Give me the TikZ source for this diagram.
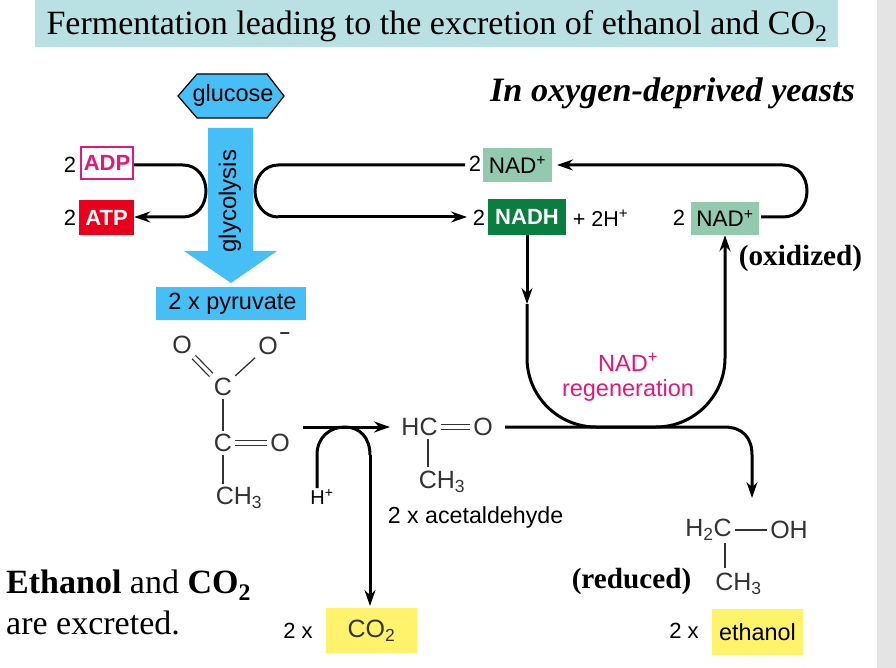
\documentclass[tikz,border=0pt]{standalone}
\usepackage{fontspec}
\setmainfont{Liberation Serif}
\newfontfamily\fsans{Liberation Sans}
\usetikzlibrary{arrows.meta}
\definecolor{titlebg}{HTML}{B9E0E3}
\definecolor{gblue}{HTML}{45BFF5}
\definecolor{pinkc}{HTML}{E6177A}
\definecolor{redc}{HTML}{E8001C}
\definecolor{nadc}{HTML}{93C9AE}
\definecolor{nadhc}{HTML}{0A7D40}
\definecolor{yel}{HTML}{FFF36B}
\definecolor{molc}{HTML}{333333}
\definecolor{strip}{HTML}{E4E4E4}
\newcommand{\fs}[1]{\fontsize{#1}{#1}\selectfont}
\tikzset{
  flow/.style={line width=3pt,black},
  tip/.style={-{Stealth[length=16pt,width=11pt]}},
  bond/.style={line width=1.3pt,molc},
  dbond/.style={line width=1.3pt,molc,double,double distance=3.4pt},
  lab/.style={inner sep=3pt,font=\fsans\fs{22}},
  atom/.style={inner sep=3pt,text=molc,font=\fsans\fs{25}},
  box/.style={inner sep=0pt,font=\fsans\fs{23.5}},
  serifb/.style={inner sep=0pt,font=\bfseries\fs{29.2}},
}
\begin{document}
\begin{tikzpicture}[x=1pt,y=-1pt]
\useasboundingbox (0,0) rectangle (896,668);
\fill[strip] (877,0) rectangle (896,668);
% title
\node[fill=titlebg,minimum width=803pt,minimum height=47pt,inner sep=0pt] (titlebox) at (436.5,23.5) {};
\node[inner sep=0pt,font=\fs{34}] (title) at (437,26) {Fermentation leading to the excretion of ethanol and CO\textsubscript{2}};
\node[inner sep=0pt,font=\bfseries\itshape\fs{34.2}] (subtitle) at (672.5,93) {In oxygen-deprived yeasts};
% glucose and glycolysis arrow
\fill[gblue,draw=black,line width=1.2pt] (178,96) -- (197,74) -- (267,74) -- (284,96) -- (267,118) -- (197,118) -- cycle;
\node[box] (glucose) at (233,95) {glucose};
\fill[gblue] (208,128) -- (253,128) -- (253,251) -- (277,251) -- (231,283) -- (184,251) -- (208,251) -- cycle;
\node[box,rotate=90,font=\fsans\fs{24}] (glyc) at (230,201) {glycolysis};
\node[box,fill=gblue,minimum width=150pt,minimum height=33pt,font=\fsans\fs{23.5}] (pyr) at (231,303.5) {\hspace{3pt}2 x pyruvate};
% ADP ATP
\node[box,draw=pinkc,line width=2pt,fill=white,text=pinkc,minimum width=52pt,minimum height=32pt,font=\fsans\bfseries\fs{22}] (adp) at (107,163) {ADP};
\node[box,fill=redc,text=white,minimum width=55pt,minimum height=35pt,font=\fsans\bfseries\fs{22}] (atp) at (106.5,217.5) {ATP};
\node[lab] (twoadp) at (70,165) {2};
\node[lab] (twoatp) at (70,218) {2};
\coordinate (la) at (183,165);
\coordinate (lb) at (183,217);
\draw[flow,tip] (adp.east |- la) -- (la) .. controls (198,165) and (206,178) .. (206,191) .. controls (206,204) and (198,217) .. (lb) -- (atp.east |- lb);
% NAD side
\node[box,fill=nadc,minimum width=69pt,minimum height=34pt,font=\fsans\fs{22.5}] (nada) at (517.5,165) {NAD\textsuperscript{+}};
\node[box,fill=nadhc,text=white,minimum width=78pt,minimum height=36pt,font=\fsans\bfseries\fs{22}] (nadh) at (527,217) {NADH};
\node[box,fill=nadc,minimum width=68pt,minimum height=33pt,font=\fsans\fs{22.5}] (nadb) at (725,218.5) {NAD\textsuperscript{+}};
\node[lab] (twoa) at (475,164) {2};
\node[lab] (twoh) at (479,218) {2};
\node[lab] (twob) at (679,218) {2};
\node[lab,inner sep=0pt,font=\fsans\fs{21.5}] (plus) at (600.5,218) {+ 2H\textsuperscript{+}};
\coordinate (ra) at (278,165);
\coordinate (rb) at (278,217);
\coordinate (raend) at (465,165);
\coordinate (rbend) at (467,217);
\draw[flow] (raend) -- (ra) .. controls (264,165) and (255,178) .. (255,191) .. controls (255,204) and (264,217) .. (rb);
\draw[flow,tip] (rb) -- (rbend);
\coordinate (ca) at (783,217);
\coordinate (cb) at (783,165);
\coordinate (caend) at (761,217);
\coordinate (cbend) at (557,165);
\draw[flow,tip] (caend) -- (ca) .. controls (798,217) and (807,205) .. (807,191) .. controls (807,177) and (798,165) .. (cb) -- (cbend);
% regeneration U
\coordinate (ndown) at (527,304);
\coordinate (ulb) at (527,358);
\coordinate (ub1) at (596,427);
\coordinate (ub2) at (656,427);
\coordinate (urb) at (725,358);
\draw[flow,tip] (nadh.south) -- (ndown);
\draw[flow,tip] (ndown) -- (ulb) .. controls (527,396) and (558,427) .. (ub1) -- (ub2) .. controls (694,427) and (725,396) .. (urb) -- (nadb.south);
\node[inner sep=0pt,text=pinkc,font=\fsans\fs{23.5}] (rega) at (628,362) {NAD\textsuperscript{+}};
\node[inner sep=0pt,text=pinkc,font=\fsans\fs{23.5}] (regb) at (628,390) {regeneration};
\node[serifb] (ox) at (800.5,258) {(oxidized)};
\node[serifb] (red) at (631.5,581) {(reduced)};
% pyruvate structure
\node[atom] (o1) at (182,345) {O};
\node[atom] (o2) at (268,346) {O};
\node[atom,inner sep=0pt] (minus) at (285,336) {\fs{18}\textbf{\char"2212}};
\node[atom] (c1) at (223,387) {C};
\node[atom] (c2) at (223,443) {C};
\node[atom] (o3) at (280,443) {O};
\node[atom] (ch1) at (239,498) {CH\textsubscript{3}};
\draw[dbond] (c1) -- (o1);
\draw[bond] (c1) -- (o2);
\draw[bond] (c1) -- (c2);
\draw[dbond] (c2) -- (o3);
\draw[bond] (c2) -- (c2 |- ch1.north);
% decarboxylation
\coordinate (da) at (303,427);
\coordinate (db) at (390,427);
\coordinate (hin) at (317,455);
\coordinate (ctop) at (345,427);
\coordinate (cdn) at (370,455);
\coordinate (cend) at (370,606);
\node[inner sep=1pt,font=\fsans\fs{20}] (hplus) at (322,497) {H\textsuperscript{+}};
\draw[flow,tip] (da) -- (db);
\draw[flow] (hplus.north -| hin) -- (hin) .. controls (317,437) and (330,427) .. (ctop) .. controls (360,427) and (370,438) .. (cdn);
\draw[flow,tip] (cdn) -- (cend);
% acetaldehyde
\node[atom] (hc) at (419.5,427) {HC};
\node[atom] (o4) at (483,427) {O};
\node[atom] (ch2) at (442,482) {CH\textsubscript{3}};
\node[lab,inner sep=0pt,font=\fsans\fs{23.2}] (acet) at (475.5,517) {2 x acetaldehyde};
\draw[dbond] (hc) -- (o4);
\draw[bond] (hc.south -| 428,0) -- (428,467);
% to ethanol
\coordinate (ea) at (505,427);
\coordinate (eb) at (724,427);
\coordinate (ec) at (752,455);
\coordinate (eend) at (752,498);
\draw[flow,tip] (ea) -- (eb) .. controls (743,427) and (752,438) .. (ec) -- (eend);
% ethanol
\node[atom] (h2c) at (708.5,530) {H\textsubscript{2}C};
\node[atom] (oh) at (789,530) {OH};
\node[atom] (ch3) at (738.5,584) {CH\textsubscript{3}};
\draw[bond] (h2c) -- (oh);
\draw[bond] (725,543) -- (725,568);
% product boxes
\node[box,fill=yel,minimum width=91pt,minimum height=45pt,text=molc,font=\fsans\fs{25}] (co2) at (371.5,630.5) {CO\textsubscript{2}};
\node[box,fill=yel,minimum width=91pt,minimum height=46pt,font=\fsans\fs{23.4}] (eth) at (757.5,632) {ethanol};
\node[lab,inner sep=0pt] (twoco) at (298,631) {2 x};
\node[lab,inner sep=0pt] (twoeth) at (684,631) {2 x};
% note
\node[inner sep=0pt,anchor=base west,font=\fs{34}] (note1) at (6,593) {\textbf{Ethanol} and \textbf{CO\textsubscript{2}}};
\node[inner sep=0pt,anchor=base west,font=\fs{34}] (note2) at (6,634) {are excreted.};
\end{tikzpicture}
\end{document}
